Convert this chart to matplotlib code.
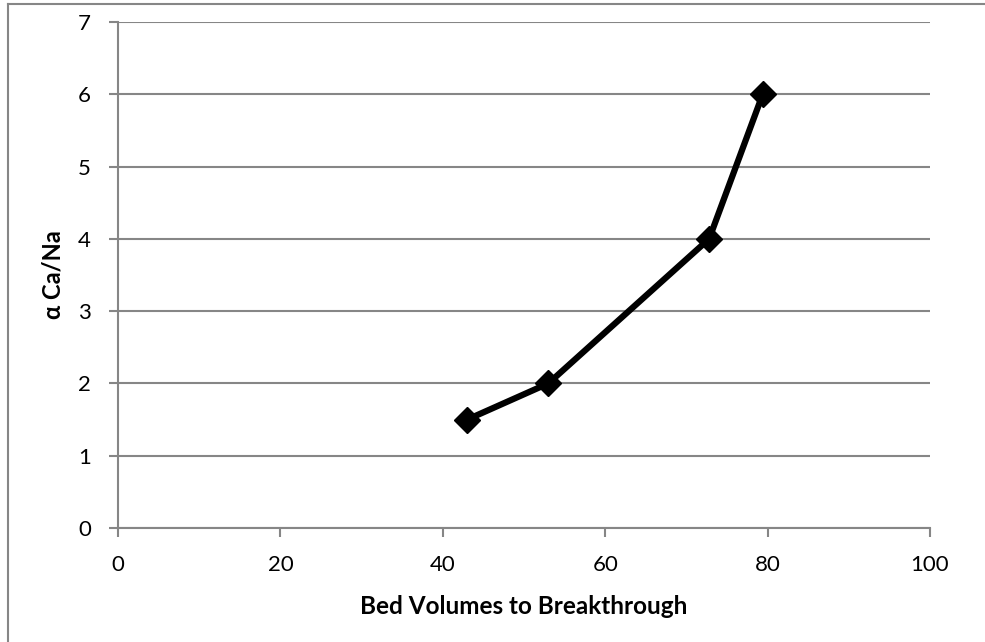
import matplotlib.pyplot as plt
from matplotlib.lines import Line2D

bed_volumes = [43, 53, 72.8, 79.4]
alpha_ca_na = [1.5, 2.0, 4.0, 6.0]
x_ticks = [0, 20, 40, 60, 80, 100]
y_ticks = [0, 1, 2, 3, 4, 5, 6, 7]

plt.rcParams["font.family"] = ["Lato", "DejaVu Sans"]
grey = "#868686"

fig = plt.figure(figsize=(9.85, 6.42), dpi=100)
ax = fig.add_axes([118 / 985, 1 - 528 / 642, (930 - 118) / 985, (528 - 22) / 642])

# outer chart border (only left and top edges are inside the picture)
bx, by = 8 / 985, 1 - 4 / 642
fig.lines.append(Line2D([bx, bx], [0, by], transform=fig.transFigure, color=grey, linewidth=1.5))
fig.lines.append(Line2D([bx, 1], [by, by], transform=fig.transFigure, color=grey, linewidth=1.5))

ax.plot(bed_volumes, alpha_ca_na, color="black", linewidth=4.5, marker="D", markersize=13,
        zorder=3, clip_on=False)

ax.set_xlim(0, 100)
ax.set_ylim(0, 7)
ax.set_xticks(x_ticks)
ax.set_yticks(y_ticks)
ax.yaxis.grid(True, color=grey, linewidth=1.5)
ax.set_axisbelow(True)

for side in ["top", "right"]:
    ax.spines[side].set_visible(False)
for side in ["left", "bottom"]:
    ax.spines[side].set_color(grey)
    ax.spines[side].set_linewidth(1.5)
ax.tick_params(direction="out", length=6.5, width=1.5, color=grey, labelsize=16)
ax.tick_params(axis="x", pad=13)
ax.tick_params(axis="y", pad=13)

ax.set_xlabel("Bed Volumes to Breakthrough", fontsize=17.5, fontweight="bold", labelpad=14)
ax.set_ylabel("α Ca/Na", fontsize=17, fontweight="bold", labelpad=10)

fig.savefig("out.png", dpi=100)
